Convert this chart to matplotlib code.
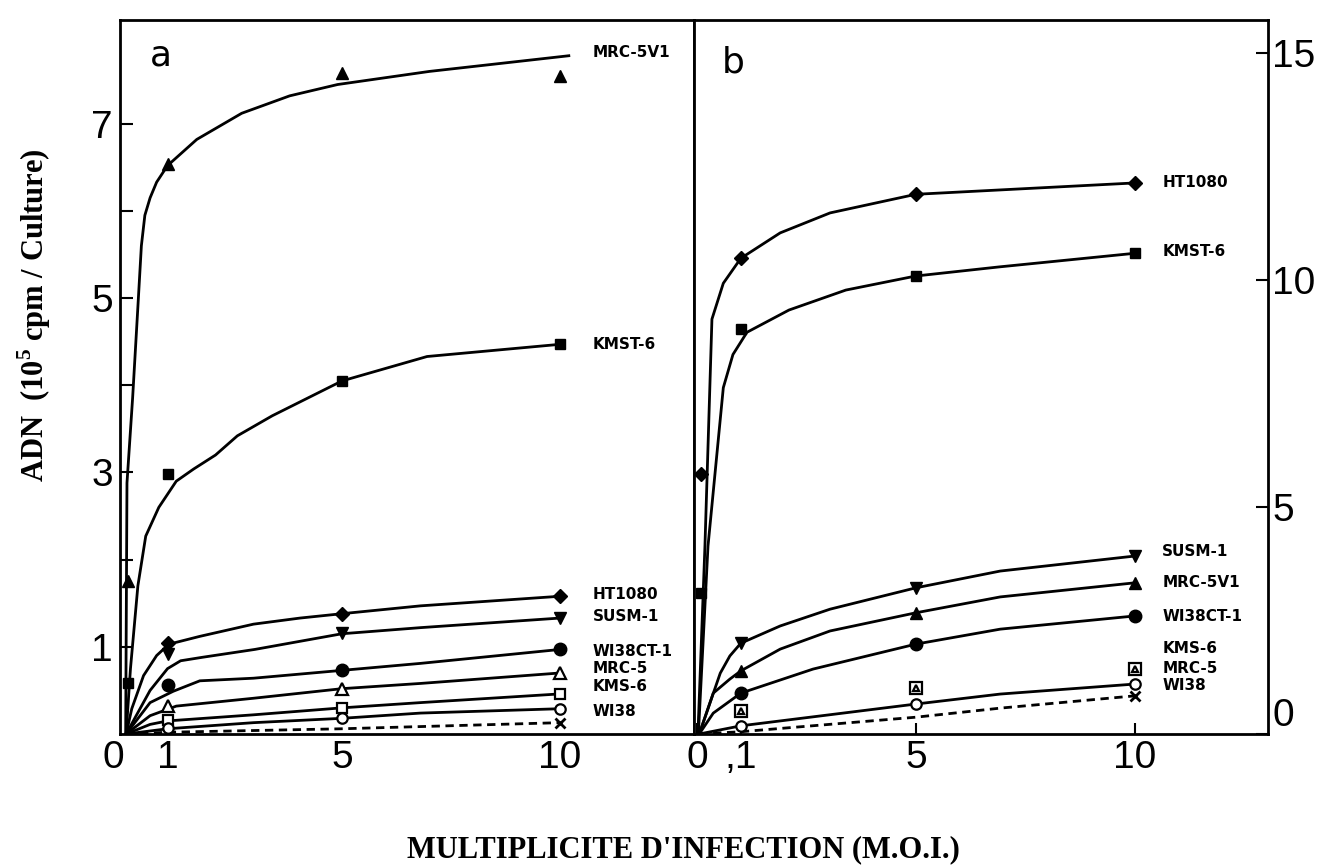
import matplotlib
matplotlib.use('Agg')
import matplotlib.pyplot as plt

plt.rcParams['mathtext.fontset'] = 'custom'
plt.rcParams['mathtext.rm'] = 'Liberation Serif:bold'
plt.rcParams['mathtext.bf'] = 'Liberation Serif:bold'

X_PTS = [1, 5, 10]

# ---- panel a : curves read along the drawn lines, then the measured points
A_MRC5V1_CX = [0.04, 0.07, 0.2, 0.32, 0.4, 0.48, 0.6, 0.75, 1.0, 1.67, 2.7, 3.8, 4.9, 7.0, 10.2]
A_MRC5V1_CY = [0, 2.88, 3.86, 4.9, 5.6, 5.95, 6.15, 6.33, 6.52, 6.82, 7.12, 7.32, 7.45, 7.6, 7.78]
A_MRC5V1_PX = [0.1, 1, 5, 10]
A_MRC5V1_PY = [1.75, 6.54, 7.58, 7.55]

A_KMST6_CX = [0.05, 0.15, 0.32, 0.5, 0.8, 1.2, 1.6, 2.1, 2.6, 3.4, 5.0, 6.95, 10.0]
A_KMST6_CY = [0, 0.75, 1.7, 2.27, 2.6, 2.9, 3.04, 3.2, 3.42, 3.65, 4.05, 4.33, 4.47]
A_KMST6_PX = [0.1, 1, 5, 10]
A_KMST6_PY = [0.58, 2.98, 4.05, 4.47]

A_HT1080_CX = [0.05, 0.18, 0.45, 0.75, 1.03, 1.74, 2.97, 4.04, 5, 6.8, 10]
A_HT1080_CY = [0, 0.29, 0.67, 0.9, 1.03, 1.12, 1.26, 1.33, 1.38, 1.47, 1.58]
A_HT1080_PY = [1.04, 1.38, 1.58]

A_SUSM1_CX = [0.05, 0.6, 1.0, 1.3, 1.8, 3.0, 5, 6.8, 10]
A_SUSM1_CY = [0, 0.5, 0.75, 0.84, 0.88, 0.97, 1.15, 1.22, 1.33]
A_SUSM1_PY = [0.92, 1.16, 1.33]

A_WI38CT1_CX = [0.05, 0.6, 1.13, 1.74, 2.97, 5, 6.8, 10]
A_WI38CT1_CY = [0, 0.36, 0.49, 0.61, 0.64, 0.73, 0.81, 0.97]
A_WI38CT1_PY = [0.56, 0.73, 0.97]

A_MRC5_CX = [0.05, 0.6, 1.2, 2.97, 5, 6.8, 10]
A_MRC5_CY = [0, 0.21, 0.32, 0.41, 0.52, 0.58, 0.70]
A_MRC5_PY = [0.32, 0.52, 0.70]

A_KMS6_CX = [0.05, 0.6, 1.0, 2.97, 5, 6.8, 10]
A_KMS6_CY = [0, 0.11, 0.15, 0.22, 0.30, 0.36, 0.46]
A_KMS6_PY = [0.16, 0.30, 0.46]

A_WI38_CX = [0.05, 1.0, 2.97, 5, 6.8, 10]
A_WI38_CY = [0, 0.06, 0.13, 0.18, 0.24, 0.29]
A_WI38_PY = [0.07, 0.18, 0.29]

A_CTRL_CX = [0.05, 1, 5, 10]
A_CTRL_CY = [0, 0.02, 0.06, 0.13]

A_NAMES = ['MRC-5V1', 'KMST-6', 'HT1080', 'SUSM-1', 'WI38CT-1', 'MRC-5', 'KMS-6', 'WI38']
A_NAME_Y = [7.82, 4.47, 1.6, 1.35, 0.95, 0.75, 0.54, 0.26]

# ---- panel b
B_HT1080_CX = [0.02, 0.18, 0.34, 0.6, 1.0, 1.9, 3.04, 5, 10]
B_HT1080_CY = [0, 4.14, 9.14, 9.93, 10.48, 11.04, 11.48, 11.89, 12.14]
B_HT1080_PX = [0.08, 1, 5, 10]
B_HT1080_PY = [5.73, 10.48, 11.89, 12.14]

B_KMST6_CX = [0.03, 0.25, 0.6, 0.82, 1.14, 2.1, 3.4, 5, 6.9, 10]
B_KMST6_CY = [0, 4.14, 7.63, 8.36, 8.85, 9.34, 9.78, 10.09, 10.29, 10.59]
B_KMST6_PX = [0.08, 1, 5, 10]
B_KMST6_PY = [3.1, 8.92, 10.09, 10.59]

B_SUSM1_CX = [0.05, 0.53, 0.75, 1, 1.9, 3.04, 5, 6.93, 10]
B_SUSM1_CY = [0, 1.34, 1.72, 2.0, 2.38, 2.75, 3.22, 3.59, 3.92]
B_SUSM1_PY = [2.0, 3.22, 3.92]

B_MRC5V1_CX = [0.05, 0.37, 0.75, 1, 1.9, 3.04, 5, 6.93, 10]
B_MRC5V1_CY = [0, 0.9, 1.21, 1.39, 1.87, 2.27, 2.67, 3.02, 3.33]
B_MRC5V1_PY = [1.39, 2.67, 3.33]

B_WI38CT1_CX = [0.05, 0.37, 1, 2.65, 5, 6.93, 10]
B_WI38CT1_CY = [0, 0.46, 0.9, 1.43, 1.98, 2.31, 2.6]
B_WI38CT1_PY = [0.9, 1.98, 2.6]

B_KMS6_PY = [0.51, 1.01, 1.43]
B_MRC5_PY = [0.51, 1.01, 1.43]

B_WI38_CX = [0.05, 1, 5, 6.93, 10]
B_WI38_CY = [0, 0.18, 0.66, 0.88, 1.1]
B_WI38_PY = [0.18, 0.66, 1.1]

B_CTRL_CX = [0.05, 1, 5, 6.93, 10]
B_CTRL_CY = [0, 0.05, 0.37, 0.57, 0.84]

B_NAMES = ['HT1080', 'KMST-6', 'SUSM-1', 'MRC-5V1', 'WI38CT-1', 'KMS-6', 'MRC-5', 'WI38']
B_NAME_Y = [12.14, 10.64, 4.03, 3.33, 2.58, 1.89, 1.45, 1.06]

TICK_FONT = ['Liberation Sans', 'DejaVu Sans']


def curve(ax, cx, cy, ls='-'):
    ax.plot(cx, cy, color='black', lw=2.0, ls=ls, zorder=2)


def points(ax, px, py, marker, ms=8.5, hollow=False):
    ax.plot(px, py, ls='none', marker=marker, ms=ms,
            mfc='white' if hollow else 'black', mec='black',
            mew=1.6 if hollow else 1.0, zorder=3)


def frame(ax):
    for s in ax.spines.values():
        s.set_linewidth(2.0)
    for lab in ax.get_xticklabels() + ax.get_yticklabels():
        lab.set_family(TICK_FONT)
        lab.set_fontsize(28)


fig = plt.figure(figsize=(13.21, 8.68), dpi=100)
ax_a = fig.add_axes([120 / 1321, 1 - 734 / 868, 574 / 1321, 714 / 868])
ax_b = fig.add_axes([694 / 1321, 1 - 734 / 868, 574 / 1321, 714 / 868])

# panel a
curve(ax_a, A_MRC5V1_CX, A_MRC5V1_CY)
points(ax_a, A_MRC5V1_PX, A_MRC5V1_PY, '^')
curve(ax_a, A_KMST6_CX, A_KMST6_CY)
points(ax_a, A_KMST6_PX, A_KMST6_PY, 's', ms=7.5)
curve(ax_a, A_HT1080_CX, A_HT1080_CY)
points(ax_a, X_PTS, A_HT1080_PY, 'D', ms=7)
curve(ax_a, A_SUSM1_CX, A_SUSM1_CY)
points(ax_a, X_PTS, A_SUSM1_PY, 'v')
curve(ax_a, A_WI38CT1_CX, A_WI38CT1_CY)
points(ax_a, X_PTS, A_WI38CT1_PY, 'o', ms=9)
curve(ax_a, A_MRC5_CX, A_MRC5_CY)
points(ax_a, X_PTS, A_MRC5_PY, '^', ms=8, hollow=True)
curve(ax_a, A_KMS6_CX, A_KMS6_CY)
points(ax_a, X_PTS, A_KMS6_PY, 's', ms=7, hollow=True)
curve(ax_a, A_WI38_CX, A_WI38_CY)
points(ax_a, X_PTS, A_WI38_PY, 'o', ms=7.5, hollow=True)
curve(ax_a, A_CTRL_CX, A_CTRL_CY, ls=(0, (3, 2)))
ax_a.plot(A_CTRL_CX[-1], A_CTRL_CY[-1], marker='x', ms=7, mew=2, color='black')

for name, y in zip(A_NAMES, A_NAME_Y):
    ax_a.text(10.75, y, name, fontsize=11, fontweight='bold', va='center', ha='left')
ax_a.text(0.85, 7.78, 'a', fontsize=26, va='center', ha='center')

ax_a.set_xlim(-0.09, 13.07)
ax_a.set_ylim(0, 8.19)
ax_a.set_xticks([0, 1, 5, 10])
ax_a.set_xticklabels(['0', '1', '5', '10'])
ax_a.set_yticks(range(1, 8))
ax_a.set_yticklabels(['1', '', '3', '', '5', '', '7'])
ax_a.tick_params(axis='x', length=0, pad=4)
ax_a.tick_params(axis='y', direction='in', length=9, width=1.5, pad=5)
ax_a.get_xticklabels()[0].set_ha('right')
frame(ax_a)

# panel b
curve(ax_b, B_HT1080_CX, B_HT1080_CY)
points(ax_b, B_HT1080_PX, B_HT1080_PY, 'D', ms=7)
curve(ax_b, B_KMST6_CX, B_KMST6_CY)
points(ax_b, B_KMST6_PX, B_KMST6_PY, 's', ms=7.5)
curve(ax_b, B_SUSM1_CX, B_SUSM1_CY)
points(ax_b, X_PTS, B_SUSM1_PY, 'v')
curve(ax_b, B_MRC5V1_CX, B_MRC5V1_CY)
points(ax_b, X_PTS, B_MRC5V1_PY, '^')
curve(ax_b, B_WI38CT1_CX, B_WI38CT1_CY)
points(ax_b, X_PTS, B_WI38CT1_PY, 'o', ms=9)
points(ax_b, X_PTS, B_KMS6_PY, 's', ms=9, hollow=True)
points(ax_b, X_PTS, B_MRC5_PY, '^', ms=5, hollow=True)
curve(ax_b, B_WI38_CX, B_WI38_CY)
points(ax_b, X_PTS, B_WI38_PY, 'o', ms=7.5, hollow=True)
curve(ax_b, B_CTRL_CX, B_CTRL_CY, ls=(0, (3, 2)))
ax_b.plot(B_CTRL_CX[-1], B_CTRL_CY[-1], marker='x', ms=7, mew=2, color='black')

for name, y in zip(B_NAMES, B_NAME_Y):
    ax_b.text(10.63, y, name, fontsize=11, fontweight='bold', va='center', ha='left')
ax_b.text(0.82, 14.8, 'b', fontsize=26, va='center', ha='center')

ax_b.set_xlim(-0.07, 13.05)
ax_b.set_ylim(0, 15.73)
ax_b.yaxis.tick_right()
ax_b.set_xticks([0, 1, 5, 10])
ax_b.set_xticklabels(['0', ',1', '5', '10'])
ax_b.set_yticks([0, 5, 10, 15])
ax_b.set_yticklabels(['0', '5', '10', '15'])
ax_b.tick_params(axis='x', direction='in', length=8, width=1.5, pad=4)
ax_b.tick_params(axis='y', direction='in', length=9, width=1.5, pad=3)
ax_b.get_yticklabels()[0].set_va('bottom')
frame(ax_b)

fig.text(34 / 1321, 1 - 315 / 868, 'ADN  (10$^{5}$ cpm / Culture)', rotation=90,
         family='Liberation Serif', fontweight='bold', fontsize=22, ha='center', va='center')
fig.text(683 / 1321, 1 - 850 / 868, "MULTIPLICITE D'INFECTION (M.O.I.)",
         family='Liberation Serif', fontweight='bold', fontsize=22, ha='center', va='center')

fig.savefig('out.png', dpi=100)
